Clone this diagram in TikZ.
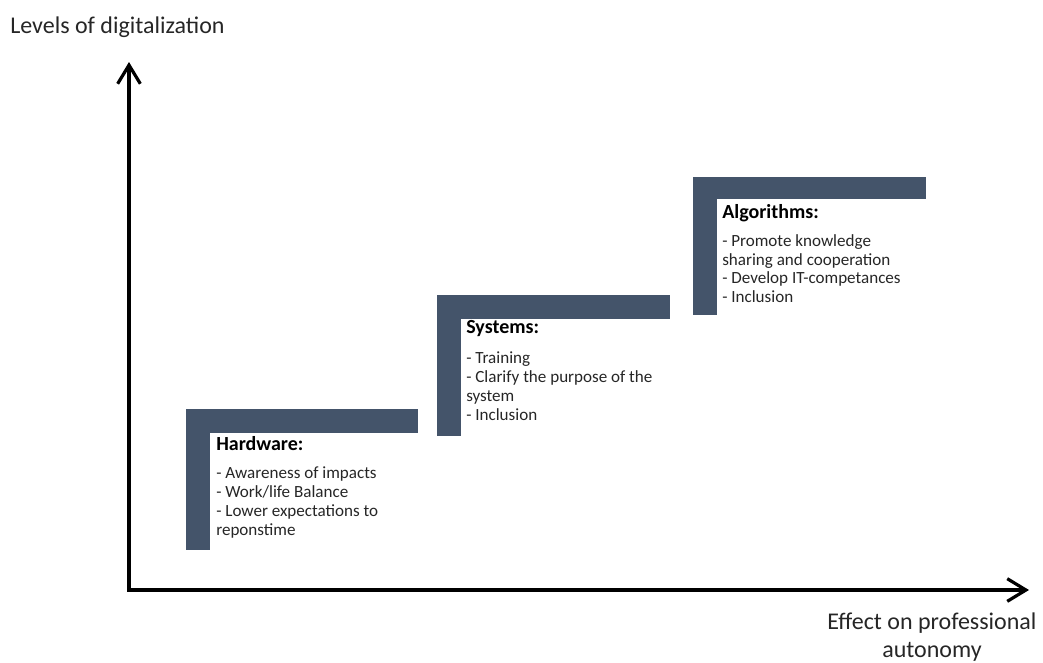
\documentclass[tikz,border=0pt]{standalone}
\usepackage{fontspec}
\setmainfont{Carlito}
\usetikzlibrary{positioning,arrows.meta}
\definecolor{stepblue}{HTML}{44546A}

\begin{document}
\begin{tikzpicture}[x=0.75pt,y=-0.75pt,
        every node/.append style={inner sep=0pt}]
      \tikzstyle{bar} = [fill=stepblue,draw=none]
      \tikzstyle{axis} = [line width=2.4pt,-{Straight Barb[length=14pt,width=17pt,line width=2.4pt]}]
      \tikzstyle{axislabel} = [font=\fontsize{18}{21}\selectfont,color=black!85,align=center]
      \tikzstyle{steptitle} = [font=\bfseries\fontsize{15}{18}\selectfont,anchor=base west]
      \tikzstyle{steplist} = [font=\fontsize{12.8}{14.3}\selectfont,align=left,anchor=north west,color=black!85]
      \useasboundingbox (0,0) rectangle (1043,662);
      % axes
      \coordinate (O) at (129,590);
      \coordinate (ytop) at (129,62);
      \coordinate (xend) at (1029,590);
      \draw[axis] (O) -- (ytop);
      \draw[axis] ([xshift=-1.2pt]O) -- (xend);
      \node (ylabel) [axislabel,anchor=west] at (10,27) {Levels of digitalization};
      \node (xlabel) [axislabel,anchor=north] at (932,613) {Effect on professional\\autonomy};
      % steps
      \fill[bar] (186,409) rectangle (418,433);
      \fill[bar] (186,409) rectangle (210,550);
      \fill[bar] (437,295) rectangle (670,319);
      \fill[bar] (437,295) rectangle (461,436);
      \fill[bar] (693,177) rectangle (926,199);
      \fill[bar] (693,177) rectangle (717,315);
      % texts
      \node (hardware) [steptitle] at (216,450) {Hardware:};
      \node (hwlist) [steplist,below=12pt of hardware.south west,anchor=north west]
        {- Awareness of impacts\\- Work/life Balance\\- Lower expectations to\\reponstime};
      \node (systems) [steptitle] at (466,333) {Systems:};
      \node (sylist) [steplist,below=11.5pt of systems.south west,anchor=north west]
        {- Training\\- Clarify the purpose of the\\system\\- Inclusion};
      \node (algorithms) [steptitle] at (722,218) {Algorithms:};
      \node (allist) [steplist,below=9.5pt of algorithms.south west,anchor=north west,
        font=\fontsize{12.8}{14}\selectfont]
        {- Promote knowledge\\sharing and cooperation\\- Develop IT-competances\\- Inclusion};
    \end{tikzpicture}
\end{document}
